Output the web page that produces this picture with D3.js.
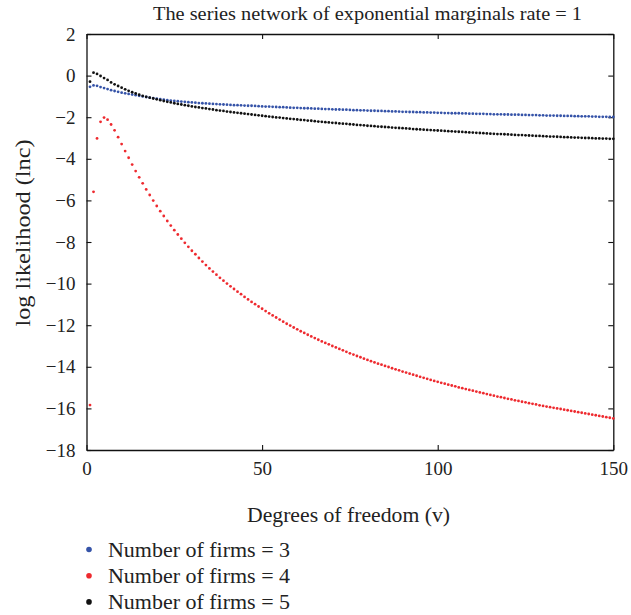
<!DOCTYPE html>
<html>
<head>
<meta charset="utf-8">
<script src="https://cdn.jsdelivr.net/npm/d3@7"></script>
<style>
  html, body { margin: 0; padding: 0; background: #fff; }
  svg text { font-family: "Liberation Serif", "Times New Roman", serif; fill: #222; }
</style>
</head>
<body>
<svg id="chart" width="631" height="615"></svg>
<script>
// Degrees of freedom v = 1..150
const dof = d3.range(1, 151);

// Log likelihood for 3 firms
const firms3 = [
  -0.54,-0.47,-0.49,-0.55,-0.60,-0.65,-0.70,-0.74,-0.78,-0.82,
  -0.85,-0.88,-0.91,-0.94,-0.97,-1.00,-1.03,-1.06,-1.08,-1.11,
  -1.13,-1.16,-1.18,-1.20,-1.22,-1.23,-1.25,-1.26,-1.28,-1.29,
  -1.30,-1.32,-1.33,-1.34,-1.35,-1.36,-1.37,-1.38,-1.39,-1.40,
  -1.41,-1.42,-1.42,-1.43,-1.44,-1.45,-1.45,-1.46,-1.47,-1.48,
  -1.49,-1.49,-1.50,-1.51,-1.52,-1.52,-1.53,-1.54,-1.55,-1.55,
  -1.56,-1.57,-1.57,-1.58,-1.59,-1.59,-1.60,-1.61,-1.61,-1.62,
  -1.63,-1.63,-1.64,-1.64,-1.65,-1.66,-1.66,-1.67,-1.67,-1.68,
  -1.69,-1.69,-1.70,-1.70,-1.71,-1.71,-1.72,-1.72,-1.73,-1.74,
  -1.74,-1.75,-1.75,-1.76,-1.76,-1.77,-1.77,-1.78,-1.78,-1.79,
  -1.79,-1.80,-1.80,-1.81,-1.81,-1.81,-1.82,-1.82,-1.83,-1.83,
  -1.84,-1.84,-1.84,-1.85,-1.85,-1.86,-1.86,-1.86,-1.87,-1.87,
  -1.88,-1.88,-1.88,-1.89,-1.89,-1.90,-1.90,-1.90,-1.91,-1.91,
  -1.92,-1.92,-1.92,-1.93,-1.93,-1.94,-1.94,-1.94,-1.95,-1.95,
  -1.96,-1.96,-1.96,-1.97,-1.97,-1.98,-1.98,-1.98,-1.99,-1.99
];

// Log likelihood for 4 firms
const firms4 = [
  -15.84,-5.59,-3.02,-2.22,-2.02,-2.12,-2.35,-2.63,-2.96,-3.29,
  -3.63,-3.95,-4.28,-4.59,-4.89,-5.18,-5.47,-5.74,-6.01,-6.27,
  -6.52,-6.75,-6.99,-7.21,-7.43,-7.64,-7.84,-8.04,-8.23,-8.42,
  -8.59,-8.77,-8.94,-9.11,-9.27,-9.42,-9.57,-9.72,-9.86,-10.00,
  -10.13,-10.26,-10.39,-10.51,-10.64,-10.76,-10.88,-10.99,-11.10,-11.21,
  -11.32,-11.43,-11.53,-11.63,-11.73,-11.83,-11.93,-12.02,-12.11,-12.20,
  -12.29,-12.37,-12.46,-12.54,-12.62,-12.70,-12.78,-12.85,-12.92,-13.00,
  -13.07,-13.14,-13.21,-13.28,-13.35,-13.41,-13.48,-13.54,-13.61,-13.67,
  -13.73,-13.79,-13.85,-13.90,-13.96,-14.01,-14.07,-14.12,-14.17,-14.23,
  -14.28,-14.33,-14.38,-14.43,-14.48,-14.53,-14.58,-14.63,-14.68,-14.72,
  -14.77,-14.81,-14.86,-14.90,-14.94,-14.99,-15.03,-15.07,-15.11,-15.15,
  -15.19,-15.23,-15.27,-15.31,-15.35,-15.39,-15.43,-15.46,-15.50,-15.54,
  -15.57,-15.61,-15.64,-15.68,-15.71,-15.75,-15.78,-15.81,-15.85,-15.88,
  -15.91,-15.94,-15.97,-16.00,-16.03,-16.06,-16.09,-16.12,-16.15,-16.18,
  -16.21,-16.24,-16.27,-16.30,-16.33,-16.36,-16.39,-16.42,-16.45,-16.48
];

// Log likelihood for 5 firms
const firms5 = [
  -0.29,0.14,0.08,-0.02,-0.12,-0.21,-0.33,-0.42,-0.50,-0.58,
  -0.66,-0.73,-0.80,-0.86,-0.92,-0.97,-1.02,-1.06,-1.10,-1.14,
  -1.18,-1.22,-1.26,-1.29,-1.33,-1.36,-1.39,-1.42,-1.45,-1.48,
  -1.51,-1.53,-1.56,-1.58,-1.61,-1.63,-1.66,-1.68,-1.70,-1.73,
  -1.75,-1.77,-1.79,-1.81,-1.83,-1.85,-1.87,-1.89,-1.91,-1.93,
  -1.95,-1.97,-1.99,-2.01,-2.02,-2.04,-2.06,-2.08,-2.09,-2.11,
  -2.13,-2.14,-2.16,-2.17,-2.19,-2.21,-2.22,-2.24,-2.25,-2.27,
  -2.28,-2.30,-2.31,-2.32,-2.34,-2.35,-2.37,-2.38,-2.39,-2.41,
  -2.42,-2.43,-2.45,-2.46,-2.47,-2.48,-2.50,-2.51,-2.52,-2.53,
  -2.54,-2.55,-2.57,-2.58,-2.59,-2.60,-2.61,-2.62,-2.63,-2.64,
  -2.65,-2.66,-2.67,-2.68,-2.69,-2.70,-2.71,-2.72,-2.73,-2.74,
  -2.75,-2.76,-2.77,-2.78,-2.79,-2.80,-2.81,-2.81,-2.82,-2.83,
  -2.84,-2.85,-2.86,-2.86,-2.87,-2.88,-2.89,-2.90,-2.90,-2.91,
  -2.92,-2.93,-2.93,-2.94,-2.95,-2.96,-2.96,-2.97,-2.98,-2.98,
  -2.99,-3.00,-3.00,-3.01,-3.02,-3.02,-3.03,-3.03,-3.04,-3.04
];

const xTicks = [0, 50, 100, 150];
const yTicks = [2, 0, -2, -4, -6, -8, -10, -12, -14, -16, -18];
const seriesNames = ["Number of firms = 3", "Number of firms = 4", "Number of firms = 5"];
const seriesColors = ["#3553a8", "#ee2a2f", "#111111"];
const seriesValues = [firms3, firms4, firms5];

const FONT = '"Liberation Serif", "Times New Roman", serif';
const svg = d3.select("#chart");
const margin = { left: 86.5, right: 631 - 613.3, top: 34, bottom: 615 - 450 };
const width = 631 - margin.left - margin.right;
const height = 615 - margin.top - margin.bottom;

const x = d3.scaleLinear().domain([0, 150]).range([0, width]);
const y = d3.scaleLinear().domain([-18, 2]).range([height, 0]);

const g = svg.append("g").attr("transform", `translate(${margin.left},${margin.top})`);

const fmt = d => (d < 0 ? "\u2212" + Math.abs(d) : String(d));

// Axes with inward ticks on all four sides
const axisStyle = sel => {
  sel.attr("font-family", FONT).attr("font-size", 19);
  sel.select(".domain").attr("stroke", "#111").attr("stroke-width", 1.3);
  sel.selectAll(".tick line").attr("stroke", "#111").attr("stroke-width", 1.1);
  sel.selectAll(".tick text").attr("fill", "#222");
};

g.append("g")
  .attr("transform", `translate(0,${height})`)
  .call(d3.axisBottom(x).tickValues(xTicks).tickFormat(fmt).tickSizeInner(-5).tickSizeOuter(0).tickPadding(12))
  .call(axisStyle);

g.append("g")
  .call(d3.axisTop(x).tickValues(xTicks).tickFormat("").tickSizeInner(-5).tickSizeOuter(0))
  .call(axisStyle);

g.append("g")
  .call(d3.axisLeft(y).tickValues(yTicks).tickFormat(fmt).tickSizeInner(-5).tickSizeOuter(0).tickPadding(11))
  .call(axisStyle);

g.append("g")
  .attr("transform", `translate(${width},0)`)
  .call(d3.axisRight(y).tickValues(yTicks).tickFormat("").tickSizeInner(-5).tickSizeOuter(0))
  .call(axisStyle);

// Dotted series
seriesValues.forEach((vals, i) => {
  g.append("g")
    .selectAll("circle")
    .data(vals.map((v, k) => ({ v: dof[k], val: v })))
    .join("circle")
    .attr("cx", d => x(d.v))
    .attr("cy", d => y(d.val))
    .attr("r", 1.4)
    .attr("fill", seriesColors[i]);
});

// Title and axis labels
svg.append("text")
  .attr("x", 367.5)
  .attr("y", 20)
  .attr("text-anchor", "middle")
  .attr("font-size", 18)
  .attr("textLength", 429)
  .attr("lengthAdjust", "spacingAndGlyphs")
  .text("The series network of exponential marginals rate = 1");

svg.append("text")
  .attr("x", 348.5)
  .attr("y", 522)
  .attr("text-anchor", "middle")
  .attr("font-size", 20)
  .attr("textLength", 203)
  .attr("lengthAdjust", "spacingAndGlyphs")
  .text("Degrees of freedom (v)");

svg.append("text")
  .attr("transform", "translate(30,233) rotate(-90)")
  .attr("text-anchor", "middle")
  .attr("font-size", 20)
  .attr("textLength", 187)
  .attr("lengthAdjust", "spacingAndGlyphs")
  .text("log likelihood (lnc)");

// Legend
const legend = svg.append("g");
seriesNames.forEach((name, i) => {
  const ly = 549.5 + i * 26.2;
  legend.append("circle").attr("cx", 89).attr("cy", ly).attr("r", 2.8).attr("fill", seriesColors[i]);
  legend.append("text")
    .attr("x", 108).attr("y", ly + 7)
    .attr("font-size", 20)
    .attr("textLength", 182)
    .attr("lengthAdjust", "spacingAndGlyphs")
    .text(name);
});
</script>
</body>
</html>
